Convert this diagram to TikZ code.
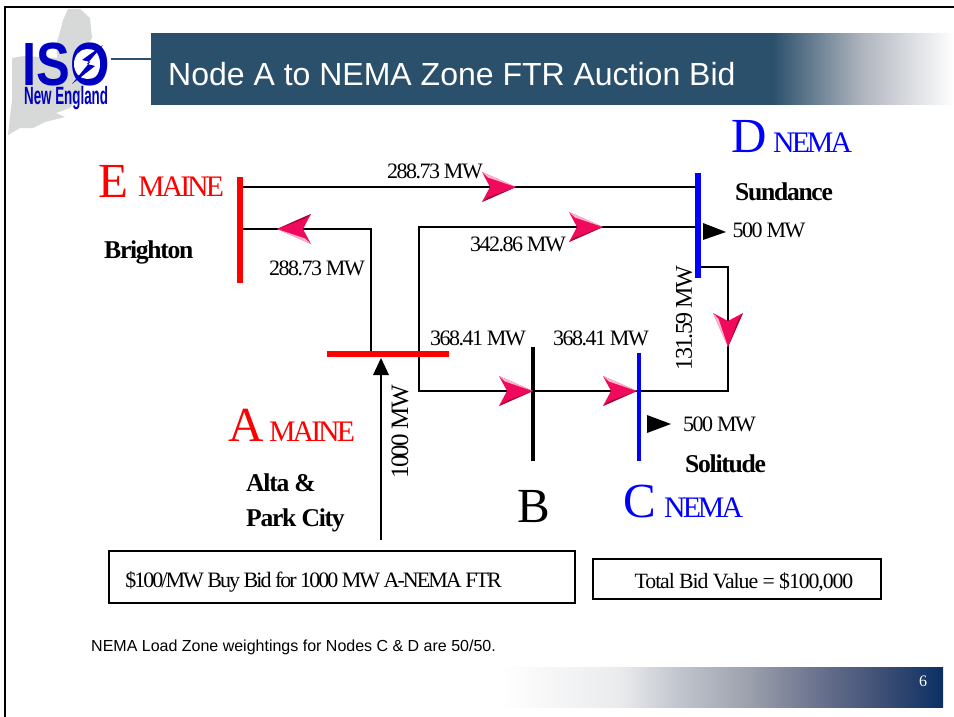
\documentclass[tikz,border=0pt]{standalone}
\usepackage{fontspec}
\setmainfont{Liberation Serif}
\newfontfamily\siteserif[LetterSpace=-5]{Liberation Serif}
\newfontfamily\tightserif[LetterSpace=-7]{Liberation Serif}
\newfontfamily\bidserif[LetterSpace=-9]{Liberation Serif}
\newfontfamily\tighterserif[LetterSpace=-10]{Liberation Serif}
\newfontfamily\plainsans{Liberation Sans}
\newcommand{\fsz}[1]{\fontsize{#1}{#1}\selectfont}
\definecolor{headblue}{HTML}{2B506C}
\definecolor{headmid}{HTML}{B0B5BE}
\definecolor{footblue}{HTML}{0B2F63}
\definecolor{foota}{HTML}{EAEBED}
\definecolor{footb}{HTML}{C2C6CE}
\definecolor{footc}{HTML}{9BA0AC}
\definecolor{footd}{HTML}{6E7590}
\definecolor{foote}{HTML}{3F5075}
\definecolor{logoblue}{HTML}{0000C0}
\definecolor{mapgray}{HTML}{D6D9D7}
\definecolor{flowpink}{HTML}{F00A5E}
\definecolor{flowlight}{HTML}{FFB4CC}
\definecolor{flowdark}{HTML}{A00030}
\definecolor{busred}{HTML}{FF0000}
\definecolor{busblue}{HTML}{0000FF}
\pgfdeclarehorizontalshading{headfade}{100bp}{color(0bp)=(headblue); color(63.7bp)=(headblue); color(69.3bp)=(headmid); color(75bp)=(white); color(100bp)=(white)}
\pgfdeclarehorizontalshading{footfade}{100bp}{color(0bp)=(white); color(25bp)=(white); color(38.5bp)=(foota); color(45bp)=(footb); color(53.2bp)=(footc); color(60.3bp)=(footd); color(67.9bp)=(foote); color(75bp)=(footblue); color(100bp)=(footblue)}
\tikzset{
    bus/.style={line width=6pt},
    thinbus/.style={line width=4pt},
    flowline/.style={line width=2pt,line join=miter},
    mwlabel/.style={inner sep=0pt,font=\tightserif\fsz{22}},
    sidelabel/.style={inner sep=0pt,rotate=90,font=\tightserif\fsz{24}},
    bidlabel/.style={inner sep=0pt,font=\bidserif\fsz{22}},
    sitelabel/.style={inner sep=0pt,anchor=base west,font=\siteserif\bfseries\fsz{25.6}},
    bigletter/.style={inner sep=0pt,anchor=base west,font=\rmfamily\fsz{49}},
    zonelabel/.style={inner sep=0pt,anchor=base west,font=\tighterserif\fsz{29.8}},
    pics/flowhead/.style={code={
        \fill[flowpink] (0,0)--(-34,-15)--(-26,0)--(-34,15)--cycle;
        \fill[flowlight] (0,0)--(-34,-15)--(-28,-9.5)--cycle;
        \fill[flowdark] (0,0)--(-34,15)--(-28,10.5)--cycle;
    }}
}
\begin{document}
\begin{tikzpicture}[x=1pt,y=-1pt]
    \useasboundingbox (0,0) rectangle (954,717);
    \coordinate (Etop) at (240,177);
    \coordinate (Ebot) at (240,283);
    \coordinate (Dtop) at (698,173);
    \coordinate (Dbot) at (698,278);
    \coordinate (Aleft) at (327,354);
    \coordinate (Aright) at (449,354);
    \coordinate (Btop) at (533,347);
    \coordinate (Bbot) at (533,461);
    \coordinate (Ctop) at (639,353);
    \coordinate (Cbot) at (639,461);
    \coordinate (Einj) at (240,187);
    \coordinate (Dinj) at (698,187);
    \coordinate (Eback) at (240,229);
    \coordinate (Acorner) at (371,229);
    \coordinate (Abranch) at (371,354);
    \coordinate (Dmid) at (698,227);
    \coordinate (Bcorner) at (419,227);
    \coordinate (Bout) at (419,391);
    \coordinate (Dlow) at (698,267);
    \coordinate (Rtop) at (728,267);
    \coordinate (Rbot) at (728,391);
    \coordinate (Feed) at (381,540);
    \coordinate (Ain) at (381,360);
    \coordinate (Head1) at (516,187);
    \coordinate (Head2) at (603,227);
    \coordinate (Head3) at (533,391);
    \coordinate (Head4) at (637,391);
    \coordinate (Head5) at (728,347);
    \coordinate (Head6) at (277,229);

    \shade[shading=headfade] (151,33.6) rectangle (954,105);
    \shade[shading=footfade] (500,667) rectangle (943,707);
    \draw[line width=2pt] (5,717)--(5,7)--(954,7);

    \fill[mapgray] (68,9)--(80,9)--(90,18)--(92,38)--(88,44)--(88,80)--(70,108)--(56,113)--(65,117)--(45,122)--(33,128)--(20,128)--(8,135)--(10,117)--(12,100)--(12,58)--(24,56)--(57,58)--(57,42)--(60,32)--(63,20)--cycle;
    \node[inner sep=0pt,anchor=base west,text=logoblue,xscale=.83,font=\plainsans\bfseries\fsz{61}] (isologo) at (22,85) {ISO};
    \fill[white] (87,64) ellipse (13 and 15);
    \fill[logoblue] (103,45)--(82,60)--(90,62)--(72,84)--(95,66)--(87,64)--cycle;
    \node[inner sep=0pt,anchor=base west,text=logoblue,xscale=.535,font=\plainsans\bfseries\fsz{25}] (newengland) at (24,105) {New England};
    \draw[headblue,line width=1.5pt] (111,59)--(156,59);

    \node[inner sep=0pt,anchor=base west,text=white,font=\plainsans\fsz{32}] (title) at (168,86) {Node A to NEMA Zone FTR Auction Bid};
    \node[inner sep=0pt,text=white,font=\rmfamily\fsz{16}] (pagenum) at (923,681) {6};

    \draw[flowline] (Einj)--(Dinj);
    \draw[flowline] (Eback)--(Acorner)--(Abranch);
    \draw[flowline] (Dmid)--(Bcorner)--(Bout)--(Rbot)--(Rtop)--(Dlow);
    \draw[flowline] (Feed)--(Ain);
    \draw[bus,busred] (Etop)--(Ebot);
    \draw[bus,busblue] (Dtop)--(Dbot);
    \draw[bus,busred] (Aleft)--(Aright);
    \draw[thinbus] (Btop)--(Bbot);
    \draw[thinbus,busblue] (Ctop)--(Cbot);

    \fill (381,358)--(389,375)--(373,375)--cycle;
    \fill (703,223)--(726,232)--(703,240)--cycle;
    \fill (647,415)--(671,424)--(647,433)--cycle;
    \pic at (Head1) {flowhead};
    \pic at (Head2) {flowhead};
    \pic at (Head3) {flowhead};
    \pic at (Head4) {flowhead};
    \pic[rotate=-90,yscale=-1] at (Head5) {flowhead};
    \pic[rotate=180] at (Head6) {flowhead};

    \node[mwlabel] (flowED) at (435,171) {288.73 MW};
    \node[mwlabel] (flowAD) at (518,244) {342.86 MW};
    \node[mwlabel] (flowAE) at (317,268) {288.73 MW};
    \node[mwlabel] (flowAB) at (478,338) {368.41 MW};
    \node[mwlabel] (flowBC) at (601,338) {368.41 MW};
    \node[sidelabel] (flowDC) at (684,318) {131.59 MW};
    \node[sidelabel,font=\tightserif\fsz{25}] (flowin) at (400,432) {1000 MW};
    \node[mwlabel] (loadD) at (769,230) {500 MW};
    \node[mwlabel] (loadC) at (719.5,424) {500 MW};

    \node[bigletter,text=busred] (nameE) at (98,197) {E};
    \node[zonelabel,text=busred] (zoneE) at (138,196) {MAINE};
    \node[bigletter,text=busred] (nameA) at (228,441) {A};
    \node[zonelabel,text=busred] (zoneA) at (269,441) {MAINE};
    \node[bigletter,text=busblue] (nameD) at (731,153) {D};
    \node[zonelabel,text=busblue] (zoneD) at (773,153) {NEMA};
    \node[bigletter,text=busblue] (nameC) at (623,517) {C};
    \node[zonelabel,text=busblue] (zoneC) at (664,517) {NEMA};
    \node[bigletter] (nameB) at (517,522) {B};

    \node[sitelabel] (brighton) at (104,258) {Brighton};
    \node[sitelabel] (sundance) at (735,200) {Sundance};
    \node[sitelabel] (solitude) at (685,472) {Solitude};
    \node[sitelabel] (alta) at (246,491) {Alta \&};
    \node[sitelabel] (parkcity) at (246,526) {Park City};

    \draw[line width=2pt] (109,551) rectangle (575,603);
    \node[bidlabel] (buybid) at (313.5,582) {\$100/MW Buy Bid for 1000 MW A-NEMA FTR};
    \draw[line width=2pt] (593,559) rectangle (881,599);
    \node[mwlabel,font=\siteserif\fsz{21.8}] (bidvalue) at (744,582) {Total Bid Value = \$100,000};
    \node[inner sep=0pt,anchor=base west,font=\plainsans\fsz{16}] (weights) at (91,651) {NEMA Load Zone weightings for Nodes C \& D are 50/50.};
\end{tikzpicture}
\end{document}
